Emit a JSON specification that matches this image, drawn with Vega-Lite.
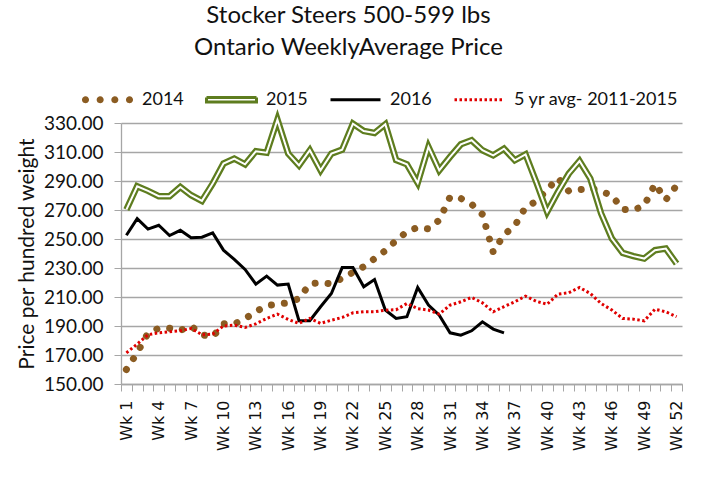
{
  "$schema": "https://vega.github.io/schema/vega-lite/v6.json",
  "width": 561,
  "height": 261,
  "autosize": {"type": "none"},
  "padding": {"left": 121, "top": 123, "right": 37, "bottom": 100},
  "background": "#ffffff",
  "config": {
    "view": {"stroke": null},
    "font": "Lato",
    "axis": {"labelFont": "Lato", "titleFont": "Lato", "labelColor": "#111111", "titleColor": "#111111"}
  },
  "title": {
    "text": ["Stocker Steers 500-599 lbs", "Ontario WeeklyAverage Price"],
    "font": "Lato",
    "fontSize": 24,
    "fontWeight": "normal",
    "color": "#111111",
    "anchor": "middle",
    "frame": "group",
    "dx": -53,
    "lineHeight": 32,
    "offset": 13
  },
  "datasets": {
    "prices": [
      {"wk": 1, "s": "2014", "v": 160}, {"wk": 2, "s": "2014", "v": 171.5}, {"wk": 3, "s": "2014", "v": 185}, {"wk": 4, "s": "2014", "v": 188.5},
      {"wk": 5, "s": "2014", "v": 188.5}, {"wk": 6, "s": "2014", "v": 187}, {"wk": 7, "s": "2014", "v": 190}, {"wk": 8, "s": "2014", "v": 184},
      {"wk": 9, "s": "2014", "v": 182.5}, {"wk": 10, "s": "2014", "v": 191.5}, {"wk": 11, "s": "2014", "v": 191.5}, {"wk": 12, "s": "2014", "v": 195},
      {"wk": 13, "s": "2014", "v": 200}, {"wk": 14, "s": "2014", "v": 204}, {"wk": 15, "s": "2014", "v": 205}, {"wk": 16, "s": "2014", "v": 206},
      {"wk": 17, "s": "2014", "v": 209}, {"wk": 18, "s": "2014", "v": 219}, {"wk": 19, "s": "2014", "v": 220}, {"wk": 20, "s": "2014", "v": 219},
      {"wk": 21, "s": "2014", "v": 223}, {"wk": 22, "s": "2014", "v": 227}, {"wk": 23, "s": "2014", "v": 231}, {"wk": 24, "s": "2014", "v": 236.5},
      {"wk": 25, "s": "2014", "v": 242}, {"wk": 26, "s": "2014", "v": 249}, {"wk": 27, "s": "2014", "v": 255}, {"wk": 28, "s": "2014", "v": 258},
      {"wk": 29, "s": "2014", "v": 257}, {"wk": 30, "s": "2014", "v": 263}, {"wk": 31, "s": "2014", "v": 279}, {"wk": 32, "s": "2014", "v": 278},
      {"wk": 33, "s": "2014", "v": 274}, {"wk": 34, "s": "2014", "v": 267}, {"wk": 35, "s": "2014", "v": 241}, {"wk": 36, "s": "2014", "v": 253},
      {"wk": 37, "s": "2014", "v": 259}, {"wk": 38, "s": "2014", "v": 272}, {"wk": 39, "s": "2014", "v": 276}, {"wk": 40, "s": "2014", "v": 284},
      {"wk": 41, "s": "2014", "v": 292}, {"wk": 42, "s": "2014", "v": 283}, {"wk": 43, "s": "2014", "v": 284}, {"wk": 44, "s": "2014", "v": 285},
      {"wk": 45, "s": "2014", "v": 283}, {"wk": 46, "s": "2014", "v": 280}, {"wk": 47, "s": "2014", "v": 270.5}, {"wk": 48, "s": "2014", "v": 270},
      {"wk": 49, "s": "2014", "v": 273}, {"wk": 50, "s": "2014", "v": 288}, {"wk": 51, "s": "2014", "v": 277}, {"wk": 52, "s": "2014", "v": 287},

      {"wk": 1, "s": "2015", "v": 270.3}, {"wk": 2, "s": "2015", "v": 286.4}, {"wk": 3, "s": "2015", "v": 283.2}, {"wk": 4, "s": "2015", "v": 279.5},
      {"wk": 5, "s": "2015", "v": 279.5}, {"wk": 6, "s": "2015", "v": 285.9}, {"wk": 7, "s": "2015", "v": 280.2}, {"wk": 8, "s": "2015", "v": 276.3},
      {"wk": 9, "s": "2015", "v": 288.2}, {"wk": 10, "s": "2015", "v": 302}, {"wk": 11, "s": "2015", "v": 305.4}, {"wk": 12, "s": "2015", "v": 301.5},
      {"wk": 13, "s": "2015", "v": 310.5}, {"wk": 14, "s": "2015", "v": 309.5}, {"wk": 15, "s": "2015", "v": 332.3}, {"wk": 16, "s": "2015", "v": 308.9},
      {"wk": 17, "s": "2015", "v": 300.8}, {"wk": 18, "s": "2015", "v": 311.2}, {"wk": 19, "s": "2015", "v": 297.4}, {"wk": 20, "s": "2015", "v": 308.9},
      {"wk": 21, "s": "2015", "v": 311.6}, {"wk": 22, "s": "2015", "v": 329.5}, {"wk": 23, "s": "2015", "v": 324.5}, {"wk": 24, "s": "2015", "v": 323.1},
      {"wk": 25, "s": "2015", "v": 329.1}, {"wk": 26, "s": "2015", "v": 304.5}, {"wk": 27, "s": "2015", "v": 301.5}, {"wk": 28, "s": "2015", "v": 288.7},
      {"wk": 29, "s": "2015", "v": 313.5}, {"wk": 30, "s": "2015", "v": 297.4}, {"wk": 31, "s": "2015", "v": 306.6}, {"wk": 32, "s": "2015", "v": 315.3},
      {"wk": 33, "s": "2015", "v": 318.1}, {"wk": 34, "s": "2015", "v": 311.2}, {"wk": 35, "s": "2015", "v": 307.7}, {"wk": 36, "s": "2015", "v": 312.3},
      {"wk": 37, "s": "2015", "v": 304.3}, {"wk": 38, "s": "2015", "v": 308.4}, {"wk": 39, "s": "2015", "v": 289}, {"wk": 40, "s": "2015", "v": 268.7},
      {"wk": 41, "s": "2015", "v": 282.5}, {"wk": 42, "s": "2015", "v": 295}, {"wk": 43, "s": "2015", "v": 303.8}, {"wk": 44, "s": "2015", "v": 291.7},
      {"wk": 45, "s": "2015", "v": 267.6}, {"wk": 46, "s": "2015", "v": 250.3}, {"wk": 47, "s": "2015", "v": 240.4}, {"wk": 48, "s": "2015", "v": 238.2},
      {"wk": 49, "s": "2015", "v": 236.5}, {"wk": 50, "s": "2015", "v": 242.3}, {"wk": 51, "s": "2015", "v": 243.4}, {"wk": 52, "s": "2015", "v": 233},

      {"wk": 1, "s": "2016", "v": 252.6}, {"wk": 2, "s": "2016", "v": 264}, {"wk": 3, "s": "2016", "v": 256.8}, {"wk": 4, "s": "2016", "v": 259.5},
      {"wk": 5, "s": "2016", "v": 252.4}, {"wk": 6, "s": "2016", "v": 256}, {"wk": 7, "s": "2016", "v": 250.8}, {"wk": 8, "s": "2016", "v": 251.2},
      {"wk": 9, "s": "2016", "v": 254.2}, {"wk": 10, "s": "2016", "v": 242.3}, {"wk": 11, "s": "2016", "v": 235.9}, {"wk": 12, "s": "2016", "v": 229},
      {"wk": 13, "s": "2016", "v": 218.9}, {"wk": 14, "s": "2016", "v": 224.4}, {"wk": 15, "s": "2016", "v": 218.2}, {"wk": 16, "s": "2016", "v": 218.9},
      {"wk": 17, "s": "2016", "v": 193.6}, {"wk": 18, "s": "2016", "v": 193.6}, {"wk": 19, "s": "2016", "v": 203.3}, {"wk": 20, "s": "2016", "v": 212.4},
      {"wk": 21, "s": "2016", "v": 230.3}, {"wk": 22, "s": "2016", "v": 230.3}, {"wk": 23, "s": "2016", "v": 217}, {"wk": 24, "s": "2016", "v": 222},
      {"wk": 25, "s": "2016", "v": 201}, {"wk": 26, "s": "2016", "v": 195.2}, {"wk": 27, "s": "2016", "v": 196.4}, {"wk": 28, "s": "2016", "v": 216.6},
      {"wk": 29, "s": "2016", "v": 204.4}, {"wk": 30, "s": "2016", "v": 197.5}, {"wk": 31, "s": "2016", "v": 185.3}, {"wk": 32, "s": "2016", "v": 183.7},
      {"wk": 33, "s": "2016", "v": 186.7}, {"wk": 34, "s": "2016", "v": 192.9}, {"wk": 35, "s": "2016", "v": 187.9}, {"wk": 36, "s": "2016", "v": 185.3},

      {"wk": 1, "s": "5 yr avg- 2011-2015", "v": 171.5}, {"wk": 2, "s": "5 yr avg- 2011-2015", "v": 177.5}, {"wk": 3, "s": "5 yr avg- 2011-2015", "v": 184}, {"wk": 4, "s": "5 yr avg- 2011-2015", "v": 185.3},
      {"wk": 5, "s": "5 yr avg- 2011-2015", "v": 186}, {"wk": 6, "s": "5 yr avg- 2011-2015", "v": 186.7}, {"wk": 7, "s": "5 yr avg- 2011-2015", "v": 188.3}, {"wk": 8, "s": "5 yr avg- 2011-2015", "v": 184},
      {"wk": 9, "s": "5 yr avg- 2011-2015", "v": 184.4}, {"wk": 10, "s": "5 yr avg- 2011-2015", "v": 190}, {"wk": 11, "s": "5 yr avg- 2011-2015", "v": 190.6}, {"wk": 12, "s": "5 yr avg- 2011-2015", "v": 189},
      {"wk": 13, "s": "5 yr avg- 2011-2015", "v": 191.5}, {"wk": 14, "s": "5 yr avg- 2011-2015", "v": 195.2}, {"wk": 15, "s": "5 yr avg- 2011-2015", "v": 198.2}, {"wk": 16, "s": "5 yr avg- 2011-2015", "v": 194.5},
      {"wk": 17, "s": "5 yr avg- 2011-2015", "v": 191.8}, {"wk": 18, "s": "5 yr avg- 2011-2015", "v": 195.2}, {"wk": 19, "s": "5 yr avg- 2011-2015", "v": 191.8}, {"wk": 20, "s": "5 yr avg- 2011-2015", "v": 194},
      {"wk": 21, "s": "5 yr avg- 2011-2015", "v": 195.9}, {"wk": 22, "s": "5 yr avg- 2011-2015", "v": 199.1}, {"wk": 23, "s": "5 yr avg- 2011-2015", "v": 199.8}, {"wk": 24, "s": "5 yr avg- 2011-2015", "v": 199.8},
      {"wk": 25, "s": "5 yr avg- 2011-2015", "v": 200.9}, {"wk": 26, "s": "5 yr avg- 2011-2015", "v": 201.2}, {"wk": 27, "s": "5 yr avg- 2011-2015", "v": 205.5}, {"wk": 28, "s": "5 yr avg- 2011-2015", "v": 202},
      {"wk": 29, "s": "5 yr avg- 2011-2015", "v": 201}, {"wk": 30, "s": "5 yr avg- 2011-2015", "v": 198.2}, {"wk": 31, "s": "5 yr avg- 2011-2015", "v": 204.4}, {"wk": 32, "s": "5 yr avg- 2011-2015", "v": 206.7},
      {"wk": 33, "s": "5 yr avg- 2011-2015", "v": 209.7}, {"wk": 34, "s": "5 yr avg- 2011-2015", "v": 206}, {"wk": 35, "s": "5 yr avg- 2011-2015", "v": 199.8}, {"wk": 36, "s": "5 yr avg- 2011-2015", "v": 203.3},
      {"wk": 37, "s": "5 yr avg- 2011-2015", "v": 206.7}, {"wk": 38, "s": "5 yr avg- 2011-2015", "v": 210.6}, {"wk": 39, "s": "5 yr avg- 2011-2015", "v": 207}, {"wk": 40, "s": "5 yr avg- 2011-2015", "v": 205},
      {"wk": 41, "s": "5 yr avg- 2011-2015", "v": 212}, {"wk": 42, "s": "5 yr avg- 2011-2015", "v": 212.9}, {"wk": 43, "s": "5 yr avg- 2011-2015", "v": 216.6}, {"wk": 44, "s": "5 yr avg- 2011-2015", "v": 212.4},
      {"wk": 45, "s": "5 yr avg- 2011-2015", "v": 205.5}, {"wk": 46, "s": "5 yr avg- 2011-2015", "v": 201}, {"wk": 47, "s": "5 yr avg- 2011-2015", "v": 195.2}, {"wk": 48, "s": "5 yr avg- 2011-2015", "v": 194.7},
      {"wk": 49, "s": "5 yr avg- 2011-2015", "v": 193.6}, {"wk": 50, "s": "5 yr avg- 2011-2015", "v": 201.6}, {"wk": 51, "s": "5 yr avg- 2011-2015", "v": 199.8}, {"wk": 52, "s": "5 yr avg- 2011-2015", "v": 196.4}
    ]
  },
  "data": {"name": "prices"},
  "encoding": {
    "x": {
      "field": "wk",
      "type": "ordinal",
      "sort": "ascending",
      "bandPosition": 0.5,
      "scale": {"type": "band", "paddingInner": 0, "paddingOuter": 0},
      "axis": {
        "title": null,
        "tickBand": "extent",
        "labelExpr": "(datum.value - 1) % 3 === 0 ? 'Wk ' + datum.value : ''",
        "labelAngle": -90,
        "labelAlign": "right",
        "labelBaseline": "middle",
        "labelOverlap": false,
        "labelFont": "DejaVu Sans",
        "labelFontSize": 16,
        "labelPadding": 9,
        "tickSize": 7,
        "tickColor": "#a6a6a6",
        "domainColor": "#a6a6a6",
        "domainWidth": 1.3,
        "grid": false
      }
    },
    "y": {
      "field": "v",
      "type": "quantitative",
      "scale": {"domain": [150, 330], "nice": false, "zero": false},
      "axis": {
        "title": "Price per hundred weight",
        "titleFontSize": 21,
        "titleFontWeight": "normal",
        "titleX": -94,
        "titleY": 130.5,
        "titleBaseline": "middle",
        "titleAngle": -90,
        "values": [150, 170, 190, 210, 230, 250, 270, 290, 310, 330],
        "format": ".2f",
        "labelFontSize": 19,
        "labelPadding": 11,
        "tickSize": 7,
        "tickColor": "#a6a6a6",
        "domainColor": "#a6a6a6",
        "domainWidth": 1.3,
        "grid": true,
        "gridColor": "#a6a6a6",
        "gridWidth": 1.3
      }
    }
  },
  "layer": [
    {
      "transform": [{"filter": "datum.s === '2014'"}],
      "mark": {"type": "line", "strokeWidth": 7, "strokeDash": [0.01, 13], "strokeCap": "round"},
      "encoding": {"color": {"field": "s", "type": "nominal"}}
    },
    {
      "transform": [{"filter": "datum.s === '2015'"}],
      "mark": {"type": "line", "strokeWidth": 6.5},
      "encoding": {"color": {"field": "s", "type": "nominal"}}
    },
    {
      "transform": [{"filter": "datum.s === '2015'"}],
      "mark": {"type": "line", "strokeWidth": 2, "color": "#ffffff"},
      "encoding": {}
    },
    {
      "transform": [{"filter": "datum.s === '2016'"}],
      "mark": {"type": "line", "strokeWidth": 3},
      "encoding": {"color": {"field": "s", "type": "nominal"}}
    },
    {
      "transform": [{"filter": "datum.s === '5 yr avg- 2011-2015'"}],
      "mark": {"type": "line", "strokeWidth": 3, "strokeDash": [2.5, 2.5]},
      "encoding": {
        "color": {
          "field": "s",
          "type": "nominal",
          "scale": {
            "domain": ["2014", "2015", "2016", "5 yr avg- 2011-2015"],
            "range": ["#8B5C22", "#5E7D1F", "#000000", "#E00000"]
          },
          "legend": {
            "title": null,
            "orient": "none",
            "direction": "horizontal",
            "legendX": -40,
            "legendY": -50,
            "symbolType": "stroke",
            "symbolSize": 2500,
            "symbolStrokeWidth": 3,
            "labelFont": "Lato",
            "labelFontSize": 18,
            "labelColor": "#111111",
            "labelOffset": 8,
            "columnPadding": 16,
            "labelLimit": 300,
            "encode": {
              "symbols": {
                "update": {
                  "shape": {"signal": "datum.value === '2015' ? 'M-1,-0.09H1V0.09H-1Z' : datum.value === '2014' ? 'M-0.8,0A0.08,0.08,0,1,1,-0.96,0A0.08,0.08,0,1,1,-0.8,0Z M-0.213,0A0.08,0.08,0,1,1,-0.373,0A0.08,0.08,0,1,1,-0.213,0Z M0.373,0A0.08,0.08,0,1,1,0.213,0A0.08,0.08,0,1,1,0.373,0Z M0.96,0A0.08,0.08,0,1,1,0.8,0A0.08,0.08,0,1,1,0.96,0Z' : 'stroke'"},
                  "fill": {"signal": "datum.value === '2015' ? '#ffffff' : datum.value === '2014' ? '#8B5C22' : 'transparent'"},
                  "strokeDash": {"signal": "datum.value === '5 yr avg- 2011-2015' ? [2.5, 2.5] : [1, 0]"}
                }
              }
            }
          }
        }
      }
    }
  ]
}
